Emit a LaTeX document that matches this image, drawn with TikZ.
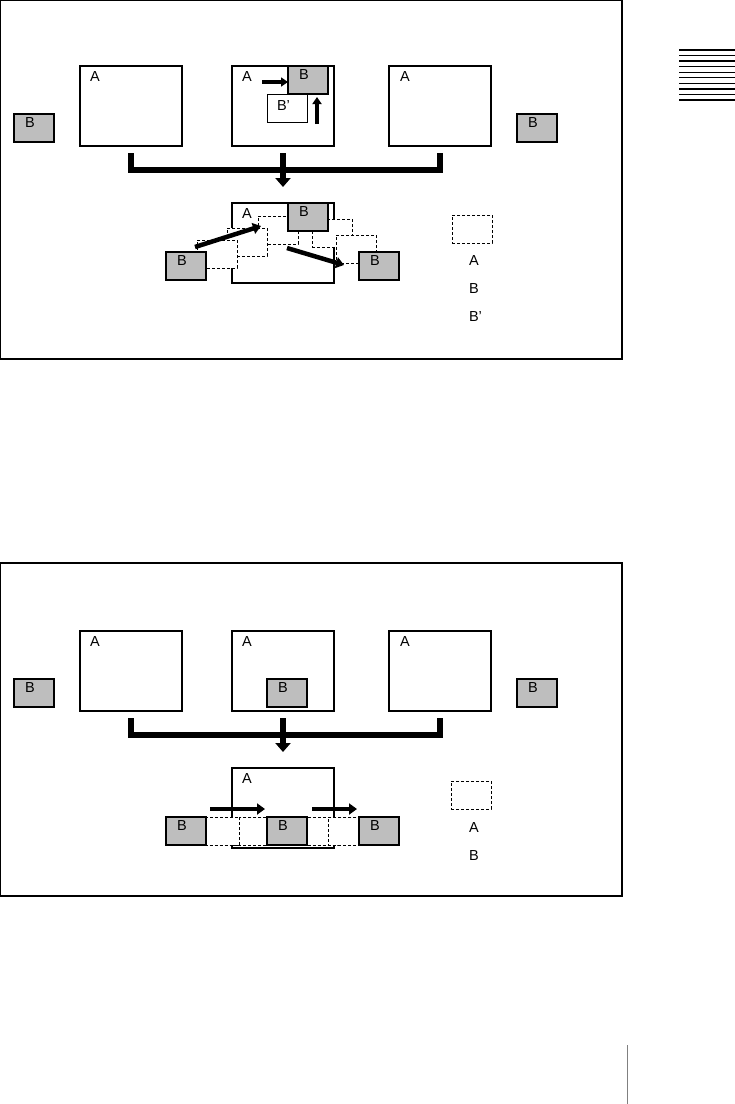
\documentclass[tikz,border=0pt]{standalone}
\usepackage{fontspec}
\setmainfont{Liberation Sans}
\usetikzlibrary{arrows.meta}
\definecolor{bgray}{RGB}{190,190,190}
\begin{document}
\begin{tikzpicture}[x=1pt,y=-1pt,
  abox/.style={draw, line width=1.7pt, fill=white, anchor=north west, minimum width=102pt, minimum height=80pt, inner sep=0pt, outer sep=0pt},
  bbox/.style={draw, line width=2pt, fill=bgray, anchor=north west, minimum width=40pt, minimum height=28pt, inner sep=0pt, outer sep=0pt},
  pbox/.style={draw, line width=0.8pt, fill=white, anchor=north west, minimum width=40pt, minimum height=28pt, inner sep=0pt, outer sep=0pt},
  ghost/.style={draw, line width=0.9pt, dash pattern=on 3pt off 2pt, fill=white, anchor=north west, minimum width=40pt, minimum height=28pt, inner sep=0pt, outer sep=0pt},
  lbl/.style={anchor=north west, inner sep=0pt, outer sep=0pt, font=\fontsize{14.5}{15}\selectfont},
  frame/.style={draw, line width=1.4pt},
  bracket/.style={line width=5.5pt},
  bigtip/.style={-{Triangle[width=15pt,length=9pt]}},
  mover/.style={line width=4.5pt, -{Triangle[width=11pt,length=8pt]}},
  smover/.style={line width=4pt, -{Triangle[width=9pt,length=7pt]}},
  stripe/.style={line width=1.3pt},
]
\useasboundingbox (0,0) rectangle (735,1104);

% ================= TOP DIAGRAM =================
\draw[frame] (0.7,0.7) rectangle (622,359);

% row of screens
\node[bbox] (tlb) at (14,114) {};
\node[lbl] (tlbl) at (25,118) {B};
\node[abox] (ta1) at (80,66) {};
\node[lbl] (ta1l) at (90,72) {A};
\node[abox] (ta2) at (232,66) {};
\node[lbl] (ta2l) at (242,72) {A};
\node[pbox] (tbp) at (267,94) {};
\node[lbl] (tbpl) at (277,101) {B’};
\node[bbox] (tgb) at (288,66) {};
\node[lbl] (tgbl) at (299,70) {B};
\coordinate (tar1) at (262,82);
\coordinate (tar1e) at (288,82);
\draw[smover] (tar1) -- (tar1e);
\coordinate (tar2) at (317,124);
\coordinate (tar2e) at (317,97);
\draw[smover] (tar2) -- (tar2e);
\node[abox] (ta3) at (389,66) {};
\node[lbl] (ta3l) at (400,72) {A};
\node[bbox] (trb) at (517,114) {};
\node[lbl] (trbl) at (528,118) {B};

% bracket
\draw[bracket] ([yshift=-7pt]ta1.south) |- ([yshift=-24pt]ta3.south) -- ([yshift=-7pt]ta3.south);
\draw[bracket,bigtip] ([yshift=-7pt]ta2.south) -- ([yshift=-41pt]ta2.south);

% result
\node[abox] (tca) at (232,203) {};
\node[lbl] (tcal) at (242,209) {A};
\node[ghost] (tr1) at (312,219) {};
\node[ghost] (tr2) at (336,235) {};
\node[ghost] (tg3) at (258,216) {};
\node[ghost] (tg2) at (227,228) {};
\node[ghost] (tg1) at (197,240) {};
\node[bbox] (tcl) at (166,252) {};
\node[lbl] (tcll) at (177,256) {B};
\node[bbox] (tct) at (288,203) {};
\node[lbl] (tctl) at (299,207) {B};
\node[bbox] (tcr) at (359,252) {};
\node[lbl] (tcrl) at (370,256) {B};
\coordinate (tm1) at (195,247);
\coordinate (tm1e) at (261,226);
\draw[mover] (tm1) -- (tm1e);
\coordinate (tm2) at (287,248);
\coordinate (tm2e) at (344,265);
\draw[mover] (tm2) -- (tm2e);

% legend
\node[ghost] (tleg) at (452,215) {};
\node[lbl] (tlegA) at (469,256) {A};
\node[lbl] (tlegB) at (469,284) {B};
\node[lbl] (tlegP) at (469,312) {B’};

% chapter tab stripes
\foreach \i in {0,...,9} {
  \draw[stripe] (679,50+5.55*\i) -- (735,50+5.55*\i);
}

% ================= BOTTOM DIAGRAM =================
\draw[frame] (0.7,563) rectangle (622,896);

\node[bbox] (blb) at (14,679) {};
\node[lbl] (blbl) at (25,683) {B};
\node[abox] (ba1) at (80,631) {};
\node[lbl] (ba1l) at (90,637) {A};
\node[abox] (ba2) at (232,631) {};
\node[lbl] (ba2l) at (242,637) {A};
\node[bbox, line width=1.3pt] (bmb) at (267,679) {};
\node[lbl] (bmbl) at (278,683) {B};
\node[abox] (ba3) at (389,631) {};
\node[lbl] (ba3l) at (400,637) {A};
\node[bbox] (brb) at (517,679) {};
\node[lbl] (brbl) at (528,683) {B};

\draw[bracket] ([yshift=-7pt]ba1.south) |- ([yshift=-24pt]ba3.south) -- ([yshift=-7pt]ba3.south);
\draw[bracket,bigtip] ([yshift=-7pt]ba2.south) -- ([yshift=-41pt]ba2.south);

\node[abox] (bca) at (232,768) {};
\node[lbl] (bcal) at (242,774) {A};
\node[ghost] (bg2) at (233.3,817) {};
\node[ghost] (bg1) at (199.7,817) {};
\node[ghost] (bg3) at (297.7,817) {};
\node[ghost] (bg4) at (328.3,817) {};
\node[bbox] (bcl) at (166,817) {};
\node[lbl] (bcll) at (177,821) {B};
\node[bbox] (bcm) at (267,817) {};
\node[lbl] (bcml) at (278,821) {B};
\node[bbox] (bcr) at (359,817) {};
\node[lbl] (bcrl) at (370,821) {B};
\coordinate (bm1) at (210,809);
\coordinate (bm1e) at (265,809);
\draw[mover] (bm1) -- (bm1e);
\coordinate (bm2) at (312,809);
\coordinate (bm2e) at (357,809);
\draw[mover] (bm2) -- (bm2e);

\node[ghost] (bleg) at (451,781) {};
\node[lbl] (blegA) at (469,823) {A};
\node[lbl] (blegB) at (469,851) {B};

% page edge line
\coordinate (pl1) at (627,1045);
\coordinate (pl2) at (627,1104);
\draw[line width=1pt, gray] (pl1) -- (pl2);
\end{tikzpicture}
\end{document}
